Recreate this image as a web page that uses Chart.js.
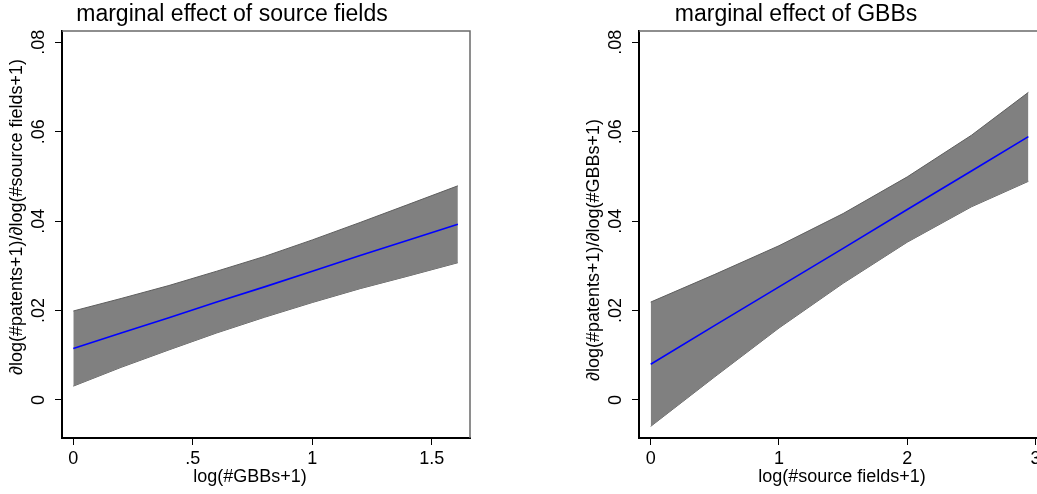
<!DOCTYPE html>
<html>
<head>
<meta charset="utf-8">
<script src="https://cdn.jsdelivr.net/npm/chart.js@4.4.1/dist/chart.umd.min.js"></script>
<style>
  html, body { margin: 0; padding: 0; background: #fff; width: 1037px; height: 494px; overflow: hidden; }
  .panel { position: absolute; top: 0; height: 494px; }
  #leftWrap { left: 0; width: 520px; }
  #rightWrap { left: 560px; width: 540px; }
</style>
</head>
<body>
<div id="leftWrap" class="panel"><canvas id="leftChart" width="520" height="494"></canvas></div>
<div id="rightWrap" class="panel"><canvas id="rightChart" width="540" height="494"></canvas></div>
<script>
// ---- data ----
const leftX        = [0, 0.2, 0.4, 0.6, 0.8, 1.0, 1.2, 1.4, 1.609];
const leftEstimate = [0.0115, 0.0150, 0.0184, 0.0219, 0.0253, 0.0288, 0.0323, 0.0357, 0.0393];
const leftUpper    = [0.0199, 0.0227, 0.0256, 0.0288, 0.0321, 0.0358, 0.0397, 0.0437, 0.0479];
const leftLower    = [0.0031, 0.0073, 0.0112, 0.0150, 0.0185, 0.0218, 0.0249, 0.0277, 0.0307];

const rightX        = [0, 0.5, 1, 1.5, 2, 2.5, 2.944];
const rightEstimate = [0.0080, 0.0167, 0.0253, 0.0339, 0.0426, 0.0512, 0.0589];
const rightUpper    = [0.0219, 0.0281, 0.0345, 0.0417, 0.0499, 0.0592, 0.0688];
const rightLower    = [-0.0059, 0.0052, 0.0161, 0.0261, 0.0353, 0.0432, 0.0489];

const yTickValues = [0, 0.02, 0.04, 0.06, 0.08];
const yTickLabels = ['0', '.02', '.04', '.06', '.08'];
const leftXTickValues = [0, 0.5, 1, 1.5];
const leftXTickLabels = ['0', '.5', '1', '1.5'];
const rightXTickValues = [0, 1, 2, 3];
const rightXTickLabels = ['0', '1', '2', '3'];

const leftTitle = 'marginal effect of source fields';
const rightTitle = 'marginal effect of GBBs';
const leftXTitle = 'log(#GBBs+1)';
const rightXTitle = 'log(#source fields+1)';
const leftYTitle = '\u2202log(#patents+1)/\u2202log(#source fields+1)';
const rightYTitle = '\u2202log(#patents+1)/\u2202log(#GBBs+1)';

// ---- styling ----
const FONT = '"Liberation Sans", Arial, Helvetica, sans-serif';
const BAND_FILL = '#808080';
const BAND_EDGE = '#5e5e5e';
const LINE_COLOR = '#0000ff';

function pts(xs, ys) { return xs.map((x, i) => ({ x: x, y: ys[i] })); }

const textPlugin = {
  id: 'panelText',
  afterDraw(chart, args, o) {
    const ctx = chart.ctx;
    const ca = chart.chartArea;
    ctx.save();
    // frame (top and right)
    ctx.strokeStyle = '#6a6a6a';
    ctx.lineWidth = 1.5;
    ctx.beginPath();
    ctx.moveTo(ca.left, ca.top);
    ctx.lineTo(ca.right, ca.top);
    ctx.lineTo(ca.right, ca.bottom);
    ctx.stroke();
    ctx.fillStyle = '#000';
    // title
    ctx.font = '23px ' + FONT;
    ctx.textAlign = 'center';
    ctx.textBaseline = 'alphabetic';
    ctx.fillText(o.title, o.titleX, o.titleY);
    // x title
    ctx.font = '18px ' + FONT;
    ctx.fillText(o.xTitle, o.xTitleX, o.xTitleY);
    // y title (rotated)
    ctx.save();
    ctx.translate(o.yTitleX, o.yTitleY);
    ctx.rotate(-Math.PI / 2);
    ctx.textAlign = 'center';
    ctx.textBaseline = 'alphabetic';
    ctx.fillText(o.yTitle, 0, 0);
    ctx.restore();
    // y tick labels (rotated)
    const ys = chart.scales.y;
    ys.ticks.forEach((t, i) => {
      const py = ys.getPixelForValue(t.value);
      ctx.save();
      ctx.translate(o.yTickX, py);
      ctx.rotate(-Math.PI / 2);
      ctx.textAlign = 'center';
      ctx.textBaseline = 'middle';
      ctx.fillText(o.yTickLabels[i], 0, 0);
      ctx.restore();
    });
    ctx.restore();
  }
};

function makeChart(id, cfg) {
  const ctx = document.getElementById(id);
  return new Chart(ctx, {
    type: 'line',
    data: {
      datasets: [
        { label: 'estimate', data: pts(cfg.x, cfg.est), borderColor: LINE_COLOR, borderWidth: 1.6,
          pointRadius: 0, fill: false, tension: 0 },
        { label: 'upper', data: pts(cfg.x, cfg.up), borderColor: BAND_EDGE, borderWidth: 1,
          backgroundColor: BAND_FILL, pointRadius: 0, fill: '+1', tension: 0 },
        { label: 'lower', data: pts(cfg.x, cfg.lo), borderColor: BAND_EDGE, borderWidth: 1,
          pointRadius: 0, fill: false, tension: 0 }
      ]
    },
    options: {
      responsive: false,
      animation: false,
      devicePixelRatio: 1,
      layout: { padding: { top: 31, left: 0, right: cfg.padRight, bottom: 0 } },
      plugins: {
        legend: { display: false },
        tooltip: { enabled: false },
        title: { display: false },
        panelText: cfg.text
      },
      scales: {
        x: {
          type: 'linear',
          min: cfg.xMin, max: cfg.xMax,
          afterBuildTicks: (s) => { s.ticks = cfg.xTicks.map(v => ({ value: v })); },
          afterFit: (s) => { s.height = 56; },
          ticks: {
            autoSkip: false, maxRotation: 0, minRotation: 0, padding: 3,
            color: '#000', font: { family: FONT, size: 18 },
            callback: (v) => cfg.xLabels[cfg.xTicks.indexOf(v)]
          },
          grid: { drawOnChartArea: false, drawTicks: true, tickLength: 7, color: '#000', lineWidth: 1 },
          border: { display: true, color: '#000', width: 2 }
        },
        y: {
          type: 'linear',
          min: -0.008498, max: 0.08252,
          afterBuildTicks: (s) => { s.ticks = yTickValues.map(v => ({ value: v })); },
          afterFit: (s) => { s.width = cfg.yWidth; },
          ticks: { display: false },
          grid: { drawOnChartArea: false, drawTicks: true, tickLength: 7, color: '#000', lineWidth: 1 },
          border: { display: true, color: '#000', width: 2 }
        }
      }
    },
    plugins: [textPlugin]
  });
}

makeChart('leftChart', {
  x: leftX, est: leftEstimate, up: leftUpper, lo: leftLower,
  xMin: -0.0473, xMax: 1.6598, padRight: 50, yWidth: 62,
  xTicks: leftXTickValues, xLabels: leftXTickLabels,
  text: {
    title: leftTitle, titleX: 232, titleY: 21,
    xTitle: leftXTitle, xTitleX: 250, xTitleY: 482,
    yTitle: leftYTitle, yTitleX: 22, yTitleY: 217,
    yTickX: 39, yTickLabels: yTickLabels
  }
});

makeChart('rightChart', {
  x: rightX, est: rightEstimate, up: rightUpper, lo: rightLower,
  xMin: -0.0912, xMax: 3.089, padRight: 53, yWidth: 79,
  xTicks: rightXTickValues, xLabels: rightXTickLabels,
  text: {
    title: rightTitle, titleX: 236, titleY: 21,
    xTitle: rightXTitle, xTitleX: 282, xTitleY: 482,
    yTitle: rightYTitle, yTitleX: 39, yTitleY: 250,
    yTickX: 56, yTickLabels: yTickLabels
  }
});
</script>
</body>
</html>
